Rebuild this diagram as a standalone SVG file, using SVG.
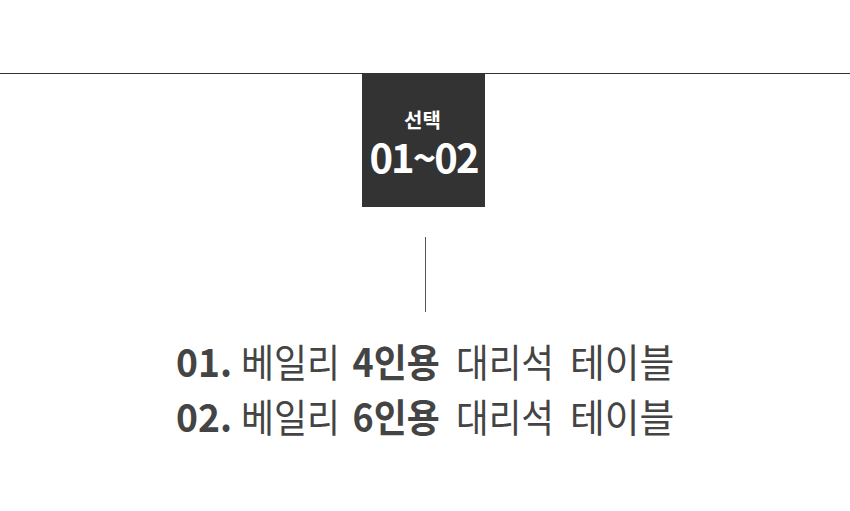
<svg xmlns="http://www.w3.org/2000/svg" width="850" height="511" viewBox="0 0 850 511">
<style>
.k{font-family:"Noto Sans CJK KR","Noto Sans",sans-serif;}
.b{font-weight:700;}
.r{font-weight:400;}
.main{font-size:39px;fill:#444;}
</style>
<rect width="850" height="511" fill="#fff"/>
<g id="connectors">
<line x1="0" y1="73.5" x2="850" y2="73.5" stroke="#333" stroke-width="1"/>
<line x1="425.5" y1="237" x2="425.5" y2="312" stroke="#555" stroke-width="1"/>
</g>
<g id="badge">
<rect x="362" y="73" width="123" height="134" fill="#333"/>
<text class="k b" x="422.5" y="128" font-size="20" fill="#fff" text-anchor="middle">선택</text>
<text class="k b" x="423.5" y="173" font-size="40" fill="#fff" text-anchor="middle" letter-spacing="-2">01~02</text>
</g>
<g id="item1">
<text class="k main b" transform="translate(176 377) scale(0.955 1)">01.</text>
<text class="k main r" transform="translate(241 377) scale(0.92 1)">베일리</text>
<text class="k main b" transform="translate(352.5 377) scale(0.92 1)">4인용</text>
<text class="k main r" transform="translate(456 377) scale(0.91 1)">대리석</text>
<text class="k main r" transform="translate(570 377) scale(0.97 1)">테이블</text>
</g>
<g id="item2">
<text class="k main b" transform="translate(176 432) scale(0.955 1)">02.</text>
<text class="k main r" transform="translate(241 432) scale(0.92 1)">베일리</text>
<text class="k main b" transform="translate(352.5 432) scale(0.92 1)">6인용</text>
<text class="k main r" transform="translate(456 432) scale(0.91 1)">대리석</text>
<text class="k main r" transform="translate(570 432) scale(0.97 1)">테이블</text>
</g>
</svg>
